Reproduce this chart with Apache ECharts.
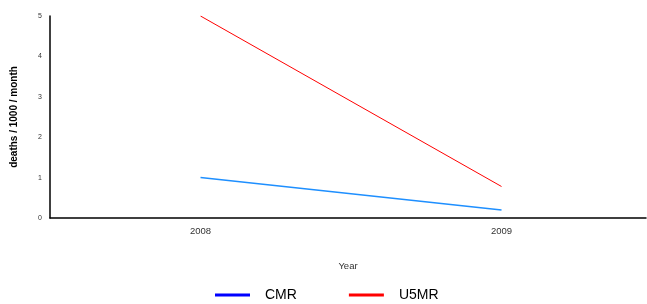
<!DOCTYPE html>
<html lang="en">
<head>
    <meta charset="UTF-8">
    <title>Mortality</title>
    <script src="https://cdn.jsdelivr.net/npm/echarts@6/dist/echarts.min.js"></script>
    <style>
        html, body { margin: 0; padding: 0; background: #fff; }
    </style>
</head>
<body>
    <div id="main" style="width: 647px;height:304px;"></div>
<script type="text/javascript">
    // data
    var years = [2008, 2009];
    var cmr = [1.0, 0.2];
    var u5mr = [5.0, 0.78];
    var yTicks = [0, 1, 2, 3, 4, 5];

    function pairs(vals) {
        return years.map(function (y, i) { return [y, vals[i]]; });
    }

    var myChart = echarts.init(document.getElementById('main'));
    var font = 'Liberation Sans, Arial, sans-serif';

    var option = {
        animation: false,
        grid: { left: 50, right: 1, top: 16, bottom: 86, outerBoundsMode: 'none' },
        xAxis: {
            type: 'value',
            min: 2007.5,
            max: 2009.48,
            name: 'Year',
            nameLocation: 'middle',
            nameGap: 43,
            nameTextStyle: { fontFamily: font, fontSize: 9.5, color: '#333' },
            splitLine: { show: false },
            axisTick: { show: false },
            axisLine: { lineStyle: { color: '#000', width: 1.5 } },
            axisLabel: {
                customValues: years,
                fontFamily: font, fontSize: 9.5, color: '#333', margin: 8,
                formatter: function (v) { return String(v); }
            }
        },
        yAxis: {
            type: 'value',
            min: 0,
            max: 5,
            interval: 1,
            name: 'deaths / 1000 / month',
            nameLocation: 'middle',
            nameGap: 31,
            nameTextStyle: { fontFamily: font, fontSize: 10, fontWeight: 'bold', color: '#000' },
            splitLine: { show: false },
            axisTick: { show: false },
            axisLine: { show: true, lineStyle: { color: '#000', width: 1.5 } },
            axisLabel: {
                customValues: yTicks,
                fontFamily: font, fontSize: 7, color: '#333', margin: 8
            }
        },
        legend: {
            top: 288,
            left: 215,
            padding: 0,
            icon: 'rect',
            itemWidth: 35,
            itemHeight: 3,
            itemGap: 52,
            textStyle: { fontFamily: font, fontSize: 14, color: '#000', padding: [0, 0, 0, 10] },
            data: [
                { name: 'CMR', itemStyle: { color: '#0000ff' } },
                { name: 'U5MR', itemStyle: { color: '#ff0000' } }
            ]
        },
        series: [
            {
                name: 'CMR',
                type: 'line',
                data: pairs(cmr),
                showSymbol: false,
                itemStyle: { color: '#0000ff' },
                lineStyle: { color: '#1e8fff', width: 1.5 }
            },
            {
                name: 'U5MR',
                type: 'line',
                data: pairs(u5mr),
                showSymbol: false,
                itemStyle: { color: '#ff0000' },
                lineStyle: { color: '#ff0000', width: 1 }
            }
        ]
    };
    myChart.setOption(option);
</script>
</body>
</html>
